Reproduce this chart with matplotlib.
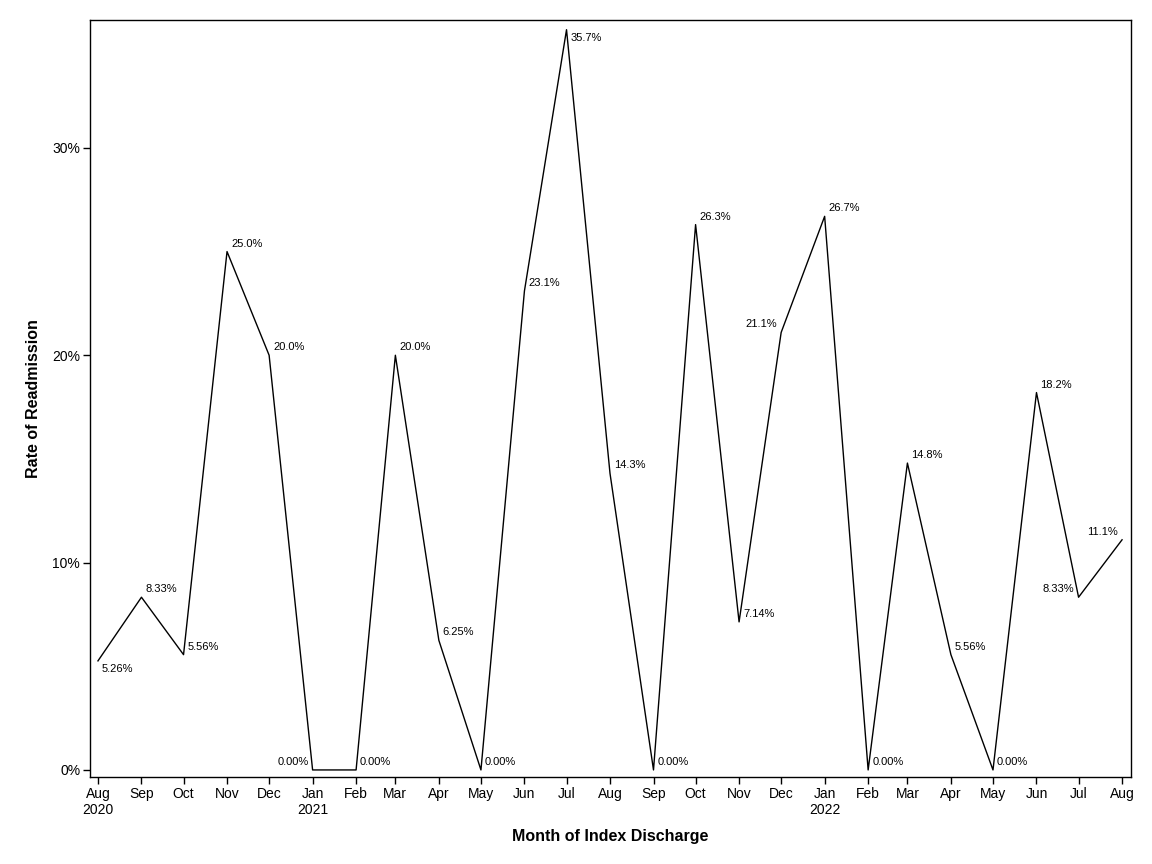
import datetime as dt
import matplotlib
matplotlib.use('Agg')
import matplotlib.pyplot as plt

# данные: месяц выписки и доля повторных госпитализаций (%)
months = ['2020-08', '2020-09', '2020-10', '2020-11', '2020-12',
          '2021-01', '2021-02', '2021-03', '2021-04', '2021-05', '2021-06',
          '2021-07', '2021-08', '2021-09', '2021-10', '2021-11', '2021-12',
          '2022-01', '2022-02', '2022-03', '2022-04', '2022-05', '2022-06',
          '2022-07', '2022-08']
rates = [5.26, 8.33, 5.56, 25.0, 20.0,
         0.00, 0.00, 20.0, 6.25, 0.00, 23.1,
         35.7, 14.3, 0.00, 26.3, 7.14, 21.1,
         26.7, 0.00, 14.8, 5.56, 0.00, 18.2,
         8.33, 11.1]
labels = ['5.26%', '8.33%', '5.56%', '25.0%', '20.0%',
          '0.00%', '0.00%', '20.0%', '6.25%', '0.00%', '23.1%',
          '35.7%', '14.3%', '0.00%', '26.3%', '7.14%', '21.1%',
          '26.7%', '0.00%', '14.8%', '5.56%', '0.00%', '18.2%',
          '8.33%', '11.1%']
# где ставить подпись относительно точки
label_pos = ['lr', 'ur', 'ur', 'ur', 'ur',
             'ul', 'ur', 'ur', 'ur', 'ur', 'ur',
             'lr', 'ur', 'ur', 'ur', 'ur', 'ul',
             'ur', 'ur', 'ur', 'ur', 'ur', 'ur',
             'ul', 'ul']

dates = [dt.datetime.strptime(m, '%Y-%m') for m in months]

plt.rcParams['font.family'] = ['Liberation Sans', 'DejaVu Sans']

fig = plt.figure(figsize=(11.52, 8.64), dpi=100)
ax = fig.add_axes([0.0781, 0.1007, 0.9037, 0.8762])

ax.plot(dates, rates, color='black', linewidth=1.0)

for d, r, t, p in zip(dates, rates, labels, label_pos):
    dx = 4 if p[1] == 'r' else -4
    dy = 8 if p[0] == 'u' else -8
    ax.annotate(t, (d, r), xytext=(dx, dy), textcoords='offset pixels',
                ha='left' if p[1] == 'r' else 'right', va='center',
                fontsize=8)

ax.set_xlim(dates[0] - dt.timedelta(days=5.7), dates[-1] + dt.timedelta(days=6.4))
ax.set_ylim(-0.34, 36.17)

ax.set_xticks(dates)
tick_text = []
for d in dates:
    s = d.strftime('%b')
    if d == dates[0] or d.month == 1:
        s += '\n' + str(d.year)
    tick_text.append(s)
ax.set_xticklabels(tick_text, fontsize=10, linespacing=1.2)

ax.set_yticks([0, 10, 20, 30])
ax.set_yticklabels(['0%', '10%', '20%', '30%'], fontsize=10)

ax.tick_params(direction='out', length=5, width=1, color='black', pad=2)
for s in ax.spines.values():
    s.set_linewidth(1.0)

ax.set_xlabel('Month of Index Discharge', fontsize=11.5, fontweight='bold', labelpad=9)
ax.set_ylabel('Rate of Readmission', fontsize=11.5, fontweight='bold', labelpad=8)

fig.savefig('out.png', dpi=100)
